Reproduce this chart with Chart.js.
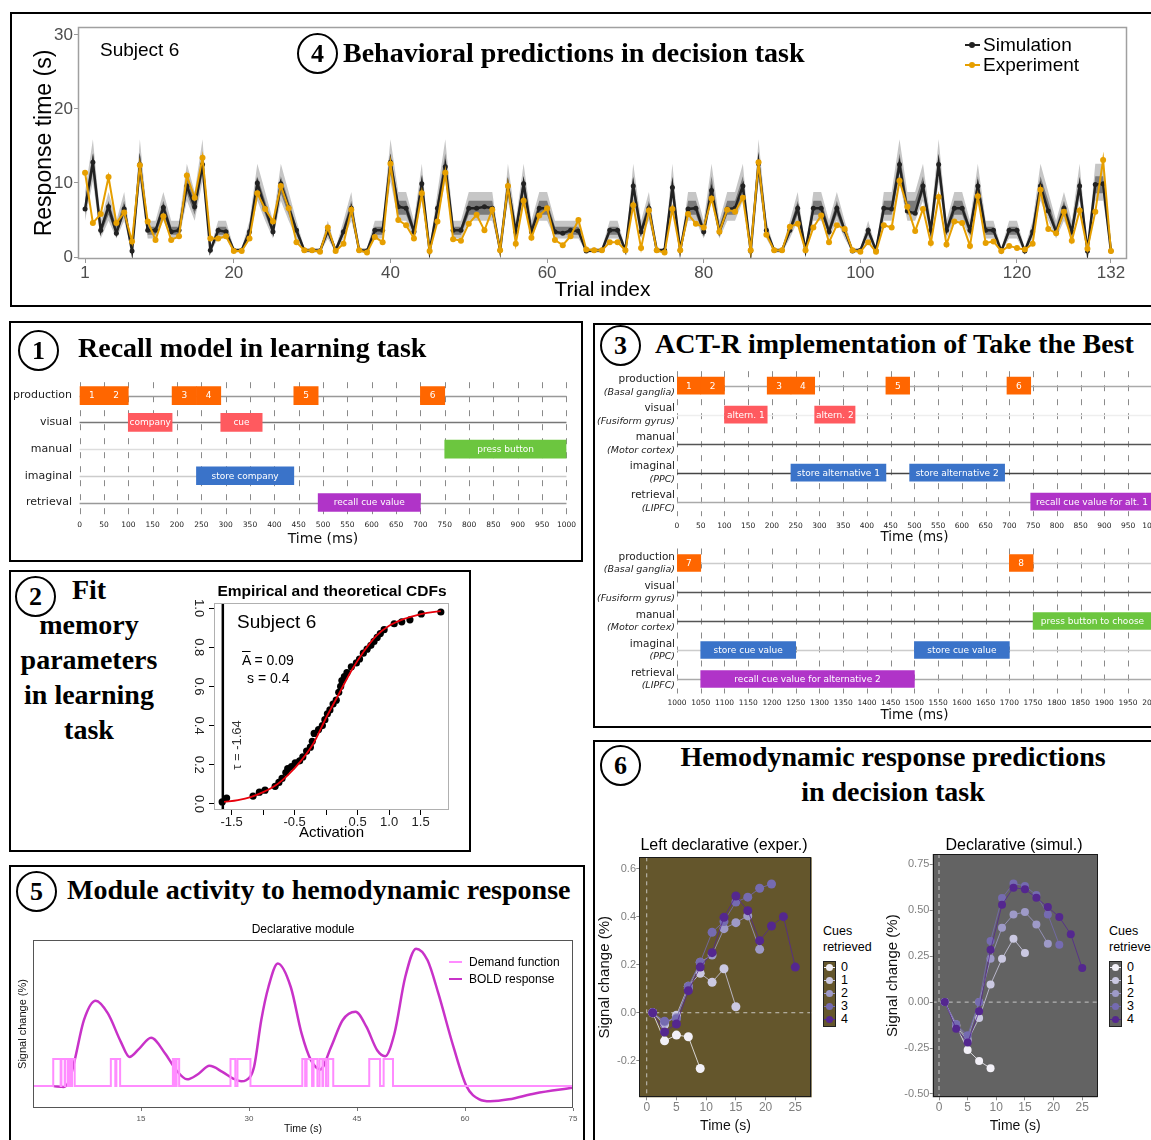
<!DOCTYPE html>
<html>
<head>
<meta charset="utf-8">
<script src="https://cdn.jsdelivr.net/npm/chart.js@4.4.1/dist/chart.umd.min.js"></script>
<style>
  html, body { margin: 0; padding: 0; background: #fff; }
  body { position: relative; width: 1151px; height: 1140px; overflow: hidden; font-family: 'Liberation Sans', Arial, sans-serif; color: #000; }
  canvas { position: absolute; }
  .box { position: absolute; border: 2px solid #000; box-sizing: border-box; }
  .t { position: absolute; white-space: nowrap; }
  .hd { position: absolute; white-space: nowrap; font: bold 28px 'Liberation Serif', 'Times New Roman', serif; line-height: 32px; }
  .circ { position: absolute; width: 41px; height: 41px; border: 2px solid #000; border-radius: 50%; box-sizing: border-box;
          font: bold 26px 'Liberation Serif', serif; line-height: 37px; text-align: center; }
  .key { position: absolute; border: 1px solid #222; box-sizing: border-box; }
  .dot { position: absolute; width: 7px; height: 7px; border-radius: 50%; }
  .ln { position: absolute; height: 2px; }
</style>
</head>
<body>

<!-- panel boxes -->
<div class="box" style="left:10px;top:12px;width:1150px;height:295px"></div>
<div class="box" style="left:9px;top:321px;width:574px;height:241px"></div>
<div class="box" style="left:9px;top:570px;width:462px;height:282px"></div>
<div class="box" style="left:593px;top:323px;width:600px;height:405px"></div>
<div class="box" style="left:9px;top:865px;width:576px;height:290px"></div>
<div class="box" style="left:593px;top:740px;width:600px;height:420px"></div>

<!-- charts -->
<canvas id="behav" width="1136" height="292" style="left:12px;top:14px"></canvas>
<canvas id="recall" width="570" height="187" style="left:11px;top:368px"></canvas>
<canvas id="cdf" width="285" height="265" style="left:180px;top:580px"></canvas>
<canvas id="tbTop" width="600" height="180" style="left:595px;top:366px"></canvas>
<canvas id="tbBot" width="600" height="182" style="left:595px;top:542px"></canvas>
<canvas id="bold" width="570" height="200" style="left:12px;top:935px"></canvas>
<canvas id="hLeft" width="226" height="310" style="left:596px;top:830px"></canvas>
<canvas id="hRight" width="225" height="310" style="left:884px;top:830px"></canvas>

<!-- panel 4 texts -->
<div class="circ" style="left:297px;top:33px">4</div>
<div class="hd" style="left:343px;top:37px">Behavioral predictions in decision task</div>
<div class="t" style="left:100px;top:39px;font-size:19px;line-height:22px">Subject 6</div>
<div class="ln" style="left:965px;top:44px;width:15px;background:#222"></div>
<div class="dot" style="left:969px;top:42px;width:6px;height:6px;background:#222"></div>
<div class="t" style="left:983px;top:34px;font-size:19px;line-height:22px">Simulation</div>
<div class="ln" style="left:965px;top:64px;width:15px;background:#E69F00"></div>
<div class="dot" style="left:969px;top:62px;width:6px;height:6px;background:#E69F00"></div>
<div class="t" style="left:983px;top:54px;font-size:19px;line-height:22px">Experiment</div>

<!-- panel 1 texts -->
<div class="circ" style="left:18px;top:330px">1</div>
<div class="hd" style="left:78px;top:332px">Recall model in learning task</div>

<!-- panel 2 texts -->
<div class="circ" style="left:15px;top:576px">2</div>
<div class="hd" style="left:9px;top:572px;width:160px;text-align:center;line-height:35px">Fit<br>memory<br>parameters<br>in learning<br>task</div>
<div class="t" style="left:332px;top:582px;transform:translateX(-50%);font-weight:bold;font-size:15.5px;line-height:18px">Empirical and theoretical CDFs</div>
<div class="t" style="left:237px;top:611px;font-size:19px;line-height:22px">Subject 6</div>
<div class="t" style="left:242px;top:652px;font-size:14px;line-height:16px"><span style="text-decoration:overline">A</span> = 0.09</div>
<div class="t" style="left:247px;top:670px;font-size:14px;line-height:16px">s = 0.4</div>
<div class="t" style="left:236px;top:745px;font-size:13px;line-height:15px;color:#333;transform:translate(-50%,-50%) rotate(-90deg)">τ = -1.64</div>

<!-- panel 3 texts -->
<div class="circ" style="left:600px;top:325px">3</div>
<div class="hd" style="left:655px;top:328px">ACT-R implementation of Take the Best</div>

<!-- panel 5 texts -->
<div class="circ" style="left:16px;top:871px">5</div>
<div class="hd" style="left:67px;top:874px">Module activity to hemodynamic response</div>
<div class="t" style="left:303px;top:922px;transform:translateX(-50%);font-size:12px;line-height:14px">Declarative module</div>
<div class="ln" style="left:449px;top:961px;width:13px;background:#ff8cff"></div>
<div class="t" style="left:469px;top:955px;font-size:12px;line-height:14px">Demand function</div>
<div class="ln" style="left:449px;top:978px;width:13px;background:#c832c8"></div>
<div class="t" style="left:469px;top:972px;font-size:12px;line-height:14px">BOLD response</div>

<!-- panel 6 texts -->
<div class="circ" style="left:600px;top:745px">6</div>
<div class="hd" style="left:893px;top:741px;transform:translateX(-50%)">Hemodynamic response predictions</div>
<div class="hd" style="left:893px;top:776px;transform:translateX(-50%)">in decision task</div>
<div class="t" style="left:724px;top:835px;transform:translateX(-50%);font-size:16px;line-height:20px">Left declarative (exper.)</div>
<div class="t" style="left:1014px;top:835px;transform:translateX(-50%);font-size:16px;line-height:20px">Declarative (simul.)</div>
<div id="legL"></div>
<div id="legR"></div>

<script>
// ---------- panel 4: behavioural predictions ----------
const simRT = [6.5, 12.8, 3.6, 6.8, 3.2, 6.5, 0.8, 12.5, 3.6, 3.6,
  6.7, 3.4, 3.6, 9.6, 6.8, 12.5, 0.9, 3.6, 3.4, 0.9,
  0.9, 3.4, 10.0, 6.6, 3.4, 9.9, 6.7, 3.6, 0.9, 0.9,
  0.8, 3.6, 0.9, 3.4, 6.6, 0.9, 0.8, 3.6, 3.6, 12.8,
  6.8, 6.6, 3.4, 9.9, 0.8, 6.6, 12.2, 3.6, 3.6, 6.6,
  6.6, 6.8, 6.6, 0.9, 9.6, 3.4, 9.9, 3.4, 6.6, 6.6,
  3.4, 3.2, 3.6, 3.5, 0.8, 0.9, 0.9, 3.6, 3.6, 0.9,
  9.6, 3.4, 6.6, 0.9, 0.9, 9.4, 0.9, 6.5, 6.6, 3.4,
  9.0, 3.4, 6.5, 6.6, 9.6, 0.8, 12.6, 3.6, 0.9, 0.9,
  3.6, 6.6, 0.9, 6.6, 6.6, 3.4, 6.6, 3.6, 0.8, 0.9,
  3.6, 0.9, 6.6, 6.5, 12.5, 6.2, 5.9, 9.6, 3.6, 12.5,
  3.6, 6.6, 6.6, 3.6, 9.6, 3.6, 3.6, 0.8, 3.6, 3.6,
  0.8, 3.4, 9.6, 6.2, 3.4, 6.6, 3.4, 9.6, 0.8, 9.8,
  9.9, 0.8];
const expRT = [11.4, 4.6, 5.8, 10.8, 4.6, 6.0, 2.1, 12.4, 4.8, 2.3,
  5.5, 2.3, 2.8, 11.0, 8.0, 13.4, 2.5, 2.5, 2.8, 0.8,
  0.8, 2.5, 8.6, 6.5, 4.8, 9.6, 6.6, 2.0, 0.9, 0.9,
  0.7, 4.0, 0.8, 1.8, 6.4, 0.9, 0.6, 2.7, 2.0, 12.6,
  5.0, 4.3, 2.5, 8.6, 0.8, 4.8, 11.4, 2.4, 2.2, 4.5,
  5.7, 3.6, 6.4, 0.9, 9.6, 1.8, 7.6, 2.6, 5.6, 6.6,
  2.3, 1.6, 2.8, 5.0, 1.0, 0.9, 0.9, 2.0, 2.0, 0.9,
  7.0, 1.2, 6.3, 0.9, 0.6, 6.5, 0.9, 5.8, 4.5, 4.0,
  7.9, 3.4, 6.4, 6.1, 8.0, 0.9, 12.8, 3.0, 0.9, 0.9,
  4.1, 4.5, 0.9, 4.0, 5.6, 2.0, 4.3, 3.8, 0.9, 0.7,
  2.0, 0.7, 4.3, 4.0, 10.3, 6.8, 3.5, 6.5, 1.9, 8.1,
  1.7, 4.8, 4.6, 1.5, 8.2, 1.9, 2.1, 0.8, 1.5, 1.2,
  1.0, 1.8, 9.1, 3.8, 3.2, 6.1, 2.2, 6.3, 1.1, 6.1,
  13.1, 0.8];
const behavXTicks = [1, 20, 40, 60, 80, 100, 120, 132];
const behavYTicks = [0, 10, 20, 30];
const bandLevel = [0.9, 3.5, 6.6, 9.7, 12.6];
const bandOuterLo = [0.6, 2.5, 4.9, 7.6, 10.2];
const bandInnerLo = [0.75, 3.0, 5.7, 8.6, 11.4];
const bandInnerHi = [1.05, 4.1, 7.6, 10.9, 14.0];
const bandOuterHi = [1.2, 4.9, 8.8, 12.6, 15.9];

// ---------- panel 1: recall model ----------
const recallRows = ['production', 'visual', 'manual', 'imaginal', 'retrieval'];
const recallBars = [
  ['production', 0, 50, '1'], ['production', 50, 100, '2'], ['production', 190, 240, '3'],
  ['production', 240, 290, '4'], ['production', 440, 490, '5'], ['production', 700, 750, '6'],
  ['visual', 100, 190, 'company'], ['visual', 290, 375, 'cue'],
  ['manual', 750, 1000, 'press button'],
  ['imaginal', 240, 440, 'store company'],
  ['retrieval', 490, 700, 'recall cue value']
];

// ---------- panel 3: take the best ----------
const tbRegions = ['(Basal ganglia)', '(Fusiform gyrus)', '(Motor cortex)', '(PPC)', '(LIPFC)'];
const tbBarsTop = [
  ['production', 0, 50, '1'], ['production', 50, 100, '2'], ['production', 190, 240, '3'],
  ['production', 240, 290, '4'], ['production', 440, 490, '5'], ['production', 695, 745, '6'],
  ['visual', 100, 190, 'altern. 1'], ['visual', 290, 375, 'altern. 2'],
  ['imaginal', 240, 440, 'store alternative 1'], ['imaginal', 490, 690, 'store alternative 2'],
  ['retrieval', 745, 1003, 'recall cue value for alt. 1']
];
const tbBarsBot = [
  ['production', 1000, 1050, '7'], ['production', 1700, 1750, '8'],
  ['manual', 1750, 2000, 'press button to choose'],
  ['imaginal', 1050, 1250, 'store cue value'], ['imaginal', 1500, 1700, 'store cue value'],
  ['retrieval', 1050, 1500, 'recall cue value for alternative 2']
];

// ---------- panel 2: CDFs ----------
const cdfAct = [-1.65, -1.58, -1.16, -1.06, -0.97, -0.81, -0.75, -0.70, -0.64, -0.61, -0.55, -0.49, -0.42,
  -0.37, -0.31, -0.25, -0.22, -0.19, -0.12, -0.06, -0.02, 0.02, 0.06, 0.11, 0.16, 0.20, 0.23, 0.25, 0.29,
  0.33, 0.40, 0.48, 0.53, 0.59, 0.65, 0.71, 0.76, 0.81, 0.86, 0.92, 1.08, 1.20, 1.33, 1.51, 1.82];
const cdfEmp = [0.01, 0.03, 0.04, 0.06, 0.07, 0.09, 0.11, 0.13, 0.16, 0.18, 0.19, 0.21, 0.22,
  0.24, 0.27, 0.29, 0.32, 0.36, 0.38, 0.40, 0.43, 0.46, 0.48, 0.51, 0.53, 0.57, 0.60, 0.63, 0.65,
  0.67, 0.70, 0.72, 0.74, 0.77, 0.79, 0.81, 0.83, 0.85, 0.87, 0.89, 0.92, 0.93, 0.94, 0.97, 0.98];
const theoAct = [-1.62, -1.4, -1.2, -1.0, -0.8, -0.6, -0.4, -0.2, 0.0, 0.2, 0.4, 0.6, 0.8, 1.0, 1.2, 1.4, 1.6, 1.82];
const theoCdf = [0.01, 0.02, 0.035, 0.06, 0.095, 0.15, 0.22, 0.31, 0.44, 0.56, 0.68, 0.78, 0.86, 0.91, 0.94, 0.96, 0.975, 0.985];
const tau = -1.64;
const cdfXTicks = [-1.5, -1.0, -0.5, 0, 0.5, 1.0, 1.5];
const cdfXLabels = ['-1.5', '', '-0.5', '', '0.5', '1.0', '1.5'];
const cdfYTicks = [0, 0.2, 0.4, 0.6, 0.8, 1.0];

// ---------- panel 5: declarative module ----------
const demandOn = [[2.81, 3.84], [3.95, 4.4], [4.5, 4.86], [5.0, 5.27], [5.42, 5.79], [10.81, 11.43], [11.58, 12.1],
  [19.43, 19.69], [19.94, 20.3], [27.43, 28.1], [28.4, 30.2], [37.4, 37.8], [38.0, 38.76], [38.97, 39.5],
  [39.8, 40.2], [40.3, 40.7], [41.0, 41.7], [46.7, 48.2], [48.7, 50.0]];
const boldT = [2.86, 4.3, 5.1, 5.79, 7.07, 8.71, 10.4, 12.2, 13.4, 14.76, 16.4, 18.35, 19.9, 21.4, 23.0, 24.5,
  26.3, 27.8, 28.9, 29.6, 30.7, 31.7, 32.7, 34.0, 35.8, 37.3, 38.6, 39.9, 41.4, 43.0, 44.8, 46.3, 47.8, 48.9,
  50.2, 51.7, 53.2, 54.8, 56.3, 58.4, 60.2, 62.0, 63.5, 66.1, 69.7, 75];
const boldV = [0, -0.03, 0.25, 0.96, 2.44, 3.16, 2.69, 1.64, 1.08, 1.39, 1.79, 1.21, 0.59, 0.25, 0.46, 0.75,
  0.53, 0.28, 0.18, 0.22, 0.71, 2.44, 3.67, 4.54, 3.67, 1.95, 0.96, 0.62, 1.45, 2.44, 2.75, 2.2, 1.33, 1.11,
  1.95, 4.04, 5.09, 4.66, 3.43, 1.45, 0, -0.49, -0.56, -0.49, -0.27, -0.06];
const boldXTicks = [15, 30, 45, 60, 75];

// ---------- panel 6: hemodynamic predictions ----------
const hemoTimes = [1, 3, 5, 7, 9, 11, 13, 15, 17, 19, 21, 23, 25];
const hemoXTicks = [0, 5, 10, 15, 20, 25];
const expCue0 = [0, -0.117, -0.093, -0.1, -0.232];
const expCue1 = [0, -0.05, -0.01, 0.11, 0.164, 0.127, 0.183, 0.025];
const expCue2 = [0, -0.04, -0.02, 0.10, 0.21, 0.24, 0.35, 0.375, 0.403, 0.264];
const expCue3 = [0, -0.035, -0.025, 0.11, 0.21, 0.335, 0.38, 0.461, 0.481, 0.518, 0.536];
const expCue4 = [0, -0.08, -0.047, 0.092, 0.19, 0.25, 0.397, 0.486, 0.425, 0.30, 0.361, 0.40, 0.19];
const simCue0 = [0, -0.127, -0.26, -0.32, -0.36];
const simCue1 = [0, -0.13, -0.21, -0.087, 0.096, 0.236, 0.345, 0.267];
const simCue2 = [0, -0.12, -0.20, 0.0, 0.236, 0.405, 0.477, 0.49, 0.423, 0.318];
const simCue3 = [0, -0.12, -0.18, 0.0, 0.332, 0.566, 0.645, 0.632, 0.583, 0.477, 0.312];
const simCue4 = [0, -0.145, -0.22, -0.05, 0.285, 0.53, 0.623, 0.614, 0.568, 0.517, 0.463, 0.369, 0.185];
const cueLabels = ['0', '1', '2', '3', '4'];

// ---------- styling ----------
const cueColors = ['#f2f0f7', '#cbc9e2', '#9e9ac8', '#756bb1', '#54278f'];
const moduleColors = { production: '#ff6600', visual: '#ff5a5f', manual: '#6cc63f', imaginal: '#3a73c9', retrieval: '#b034c8' };
const OLIVE = '#64562c';
const GREY_BG = '#636363';

Chart.defaults.font.family = "'Liberation Sans', Arial, sans-serif";
Chart.defaults.animation = false;
Chart.defaults.events = [];
Chart.defaults.plugins.legend.display = false;
Chart.defaults.plugins.tooltip.enabled = false;

// background, box and zero lines
const framePlugin = {
  id: 'frame',
  beforeDraw(chart, args, o) {
    const a = chart.chartArea, ctx = chart.ctx;
    ctx.save();
    if (o.bg) {
      ctx.fillStyle = o.bg;
      ctx.fillRect(a.left, a.top, a.right - a.left, a.bottom - a.top);
    }
    if (o.zero) {
      const x0 = chart.scales.x.getPixelForValue(0), y0 = chart.scales.y.getPixelForValue(0);
      ctx.strokeStyle = o.zero; ctx.lineWidth = 1; ctx.setLineDash([4, 4]);
      ctx.beginPath();
      ctx.moveTo(x0, a.top); ctx.lineTo(x0, a.bottom);
      ctx.moveTo(a.left, y0); ctx.lineTo(a.right, y0);
      ctx.stroke();
    }
    ctx.restore();
  },
  afterDraw(chart, args, o) {
    if (!o.color) return;
    const a = chart.chartArea, ctx = chart.ctx;
    ctx.save();
    ctx.strokeStyle = o.color; ctx.lineWidth = o.width || 1;
    ctx.strokeRect(Math.round(a.left) + 0.5, Math.round(a.top) + 0.5,
      Math.round(a.right - a.left) - 1, Math.round(a.bottom - a.top) - 1);
    ctx.restore();
  }
};

// gantt grid, bar captions and two-line row labels
const ganttPlugin = {
  id: 'gantt',
  beforeDatasetsDraw(chart, args, o) {
    if (!o.rows) return;
    const a = chart.chartArea, ctx = chart.ctx, xs = chart.scales.x, ys = chart.scales.y;
    ctx.save();
    ctx.strokeStyle = '#8a8a8a'; ctx.lineWidth = 1; ctx.setLineDash([6, 8]);
    for (let v = xs.min; v <= xs.max; v += 50) {
      const x = Math.round(xs.getPixelForValue(v)) + 0.5;
      ctx.beginPath(); ctx.moveTo(x, a.top); ctx.lineTo(x, a.bottom); ctx.stroke();
    }
    ctx.setLineDash([]);
    o.rows.forEach((r, i) => {
      const y = Math.round(ys.getPixelForValue(i)) + 0.5;
      ctx.strokeStyle = o.lineColors[i]; ctx.lineWidth = 1.5;
      ctx.beginPath(); ctx.moveTo(a.left, y); ctx.lineTo(a.right, y); ctx.stroke();
    });
    ctx.restore();
  },
  afterDatasetsDraw(chart, args, o) {
    if (!o.rows) return;
    const ctx = chart.ctx;
    ctx.save();
    ctx.fillStyle = '#fff'; ctx.textAlign = 'center'; ctx.textBaseline = 'middle';
    ctx.font = "9px 'DejaVu Sans', Verdana, sans-serif";
    chart.data.datasets.forEach((ds, di) => {
      chart.getDatasetMeta(di).data.forEach((el, i) => {
        ctx.fillText(ds.data[i].t, (el.x + el.base) / 2, el.y + 0.5);
      });
    });
    ctx.restore();
  },
  afterDraw(chart, args, o) {
    if (!o.regions) return;
    const ctx = chart.ctx, ys = chart.scales.y, x = chart.chartArea.left - 2;
    ctx.save();
    ctx.fillStyle = '#222'; ctx.textAlign = 'right'; ctx.textBaseline = 'middle';
    o.rows.forEach((r, i) => {
      const y = ys.getPixelForValue(i);
      ctx.font = "10.5px 'DejaVu Sans', Verdana, sans-serif";
      ctx.fillText(r, x, y - 6);
      ctx.font = "italic 9.5px 'DejaVu Sans', Verdana, sans-serif";
      ctx.fillText(r === undefined ? '' : o.regions[i], x, y + 7);
    });
    ctx.restore();
  }
};
Chart.register(framePlugin, ganttPlugin);

// ---------- panel 4 chart ----------
const trials = simRT.map((v, i) => i + 1);
function nearestLevel(v) {
  let k = 0;
  bandLevel.forEach((l, j) => { if (Math.abs(v - l) < Math.abs(v - bandLevel[k])) k = j; });
  return k;
}
const asPts = ys => ys.map((y, i) => ({ x: trials[i], y: y }));
const bandPts = arr => simRT.map((v, i) => ({ x: trials[i], y: arr[nearestLevel(v)] }));

new Chart(document.getElementById('behav'), {
  type: 'line',
  data: {
    datasets: [
      { data: asPts(expRT), borderColor: '#E69F00', backgroundColor: '#E69F00', borderWidth: 2, pointRadius: 3, pointBorderWidth: 0 },
      { data: asPts(simRT), borderColor: '#222', backgroundColor: '#222', borderWidth: 2.5, pointRadius: 2.5, pointBorderWidth: 0 },
      { data: bandPts(bandInnerHi), fill: '+1', backgroundColor: '#7a7a7a', borderWidth: 0, pointRadius: 0 },
      { data: bandPts(bandInnerLo), borderWidth: 0, pointRadius: 0 },
      { data: bandPts(bandOuterHi), fill: '+1', backgroundColor: '#c6c6c6', borderWidth: 0, pointRadius: 0 },
      { data: bandPts(bandOuterLo), borderWidth: 0, pointRadius: 0 }
    ]
  },
  options: {
    responsive: false,
    layout: { padding: { top: 13, right: 21, left: 0, bottom: 0 } },
    scales: {
      x: {
        type: 'linear', min: 0.1, max: 134.05,
        afterFit: s => { s.height = 47; },
        afterBuildTicks: s => { s.ticks = behavXTicks.map(v => ({ value: v })); },
        ticks: { callback: v => String(v), color: '#4d4d4d', font: { size: 17 }, padding: 0, maxRotation: 0, autoSkip: false },
        grid: { display: true, drawOnChartArea: false, tickLength: 4, color: '#999' },
        border: { display: false },
        title: { display: true, text: 'Trial index', color: '#000', font: { size: 21 }, padding: { top: 0, bottom: 3 } }
      },
      y: {
        type: 'linear', min: -0.27, max: 31.08,
        afterFit: s => { s.width = 66; },
        afterBuildTicks: s => { s.ticks = behavYTicks.map(v => ({ value: v })); },
        ticks: { callback: v => String(v), color: '#4d4d4d', font: { size: 17 }, padding: 1 },
        grid: { display: true, drawOnChartArea: false, tickLength: 4, color: '#999' },
        border: { display: false },
        title: { display: true, text: 'Response time (s)', color: '#000', font: { size: 23 }, padding: { top: 19, bottom: 0 } }
      }
    },
    plugins: { frame: { color: '#a0a0a0', width: 1.5 } }
  }
});

// ---------- gantt charts (panels 1 and 3) ----------
function ganttDatasets(rows, bars) {
  return rows.map(r => ({
    data: bars.filter(b => b[0] === r).map(b => ({ x: [b[1], b[2]], y: r, t: b[3] })),
    backgroundColor: moduleColors[r],
    borderWidth: 0
  }));
}
function ganttChart(id, rows, bars, xmin, xmax, g) {
  const xTicks = [];
  for (let v = xmin; v <= xmax; v += 50) xTicks.push(v);
  return new Chart(document.getElementById(id), {
    type: 'bar',
    data: { labels: rows, datasets: ganttDatasets(rows, bars) },
    options: {
      indexAxis: 'y',
      responsive: false,
      layout: { padding: { top: g.padTop, right: g.padRight, left: 0, bottom: 0 } },
      datasets: { bar: { grouped: false, barThickness: g.bar } },
      scales: {
        x: {
          type: 'linear', min: xmin, max: xmax,
          afterFit: s => { s.height = g.xh; },
          afterBuildTicks: s => { s.ticks = xTicks.map(v => ({ value: v })); },
          ticks: { callback: v => String(v), autoSkip: false, maxRotation: 0, padding: g.tickPad, color: '#222',
                   font: { family: "'DejaVu Sans', Verdana, sans-serif", size: 7.5 } },
          grid: { display: false, drawTicks: false },
          border: { display: false },
          title: { display: true, text: 'Time (ms)', color: '#111',
                   font: { family: "'DejaVu Sans', Verdana, sans-serif", size: g.titleSize },
                   padding: { top: 0, bottom: g.titlePad } }
        },
        y: {
          type: 'category',
          afterFit: s => { s.width = g.yw; },
          ticks: { display: g.yTicks, padding: 7.6, color: '#222', font: { family: "'DejaVu Sans', Verdana, sans-serif", size: 11 } },
          grid: { display: false, drawTicks: false },
          border: { display: false }
        }
      },
      plugins: { gantt: { rows: rows, lineColors: g.lineColors, regions: g.regions } }
    }
  });
}

ganttChart('recall', recallRows, recallBars, 0, 1000, {
  padTop: 9.1, padRight: 14.2, xh: 39.1, yw: 68.6, bar: 18, tickPad: 5, titleSize: 14, titlePad: 7.6,
  yTicks: true, lineColors: ['#999', '#777', '#ddd', '#ccc', '#999']
});
ganttChart('tbTop', recallRows, tbBarsTop, 0, 1000, {
  padTop: 5.2, padRight: 43.2, xh: 29.8, yw: 82, bar: 17, tickPad: 5.3, titleSize: 13.5, titlePad: 0.9,
  yTicks: false, regions: tbRegions, lineColors: ['#aaa', '#eee', '#555', '#444', '#aaa']
});
ganttChart('tbBot', recallRows, tbBarsBot, 1000, 2000, {
  padTop: 6.5, padRight: 43.2, xh: 30.5, yw: 82, bar: 17, tickPad: 5.5, titleSize: 13.5, titlePad: 0.9,
  yTicks: false, regions: tbRegions, lineColors: ['#ccc', '#555', '#555', '#ccc', '#aaa']
});

// ---------- panel 2 chart ----------
new Chart(document.getElementById('cdf'), {
  type: 'scatter',
  data: {
    datasets: [
      { data: theoAct.map((x, i) => ({ x: x, y: theoCdf[i] })), showLine: true, borderColor: '#e8000b', borderWidth: 1.8,
        pointRadius: 0, cubicInterpolationMode: 'monotone' },
      { data: cdfAct.map((x, i) => ({ x: x, y: cdfEmp[i] })), backgroundColor: '#000', pointRadius: 3.6, pointBorderWidth: 0 },
      { data: [{ x: tau, y: -0.03 }, { x: tau, y: 1.026 }], showLine: true, borderColor: '#000', borderWidth: 2.5, pointRadius: 0 }
    ]
  },
  options: {
    responsive: false,
    layout: { padding: { top: 23, right: 16, left: 0, bottom: 0 } },
    scales: {
      x: {
        type: 'linear', min: -1.78, max: 1.95,
        afterFit: s => { s.height = 35; },
        afterBuildTicks: s => { s.ticks = cdfXTicks.map(v => ({ value: v })); },
        ticks: { callback: (v, i) => cdfXLabels[i], color: '#222', font: { size: 13 }, padding: 0, maxRotation: 0, autoSkip: false },
        grid: { display: true, drawOnChartArea: false, tickLength: 5, color: '#000' },
        border: { display: false },
        title: { display: true, text: 'Activation', color: '#000', font: { size: 15 }, padding: { top: 0, bottom: 3 } }
      },
      y: {
        type: 'linear', min: -0.031, max: 1.026,
        afterFit: s => { s.width = 34; },
        afterBuildTicks: s => { s.ticks = cdfYTicks.map(v => ({ value: v })); },
        ticks: { callback: v => v.toFixed(1), color: '#222', font: { size: 13 }, padding: 1,
                 minRotation: -90, maxRotation: -90, crossAlign: 'center' },
        grid: { display: true, drawOnChartArea: false, tickLength: 5, color: '#000' },
        border: { display: false }
      }
    },
    plugins: { frame: { color: '#b0b0b0' } }
  }
});

// ---------- panel 5 chart ----------
const demandPts = [{ x: 0, y: 0 }];
demandOn.forEach(([s, e]) => { demandPts.push({ x: s, y: 0 }, { x: s, y: 1 }, { x: e, y: 1 }, { x: e, y: 0 }); });
demandPts.push({ x: 75, y: 0 });

new Chart(document.getElementById('bold'), {
  type: 'scatter',
  data: {
    datasets: [
      { data: demandPts, showLine: true, borderColor: '#ff8cff', borderWidth: 2, pointRadius: 0 },
      { data: boldT.map((x, i) => ({ x: x, y: boldV[i] })), showLine: true, borderColor: '#c832c8', borderWidth: 2.5,
        pointRadius: 0, cubicInterpolationMode: 'monotone' }
    ]
  },
  options: {
    responsive: false,
    layout: { padding: { top: 5, right: 9, left: 0, bottom: 0 } },
    scales: {
      x: {
        type: 'linear', min: 0, max: 75,
        afterFit: s => { s.height = 27; },
        afterBuildTicks: s => { s.ticks = boldXTicks.map(v => ({ value: v })); },
        ticks: { callback: v => String(v), color: '#555', font: { size: 8 }, padding: 3, maxRotation: 0 },
        grid: { display: true, drawOnChartArea: false, tickLength: 3, color: '#777' },
        border: { display: false },
        title: { display: true, text: 'Time (s)', color: '#111', font: { size: 10.5 }, padding: { top: 0, bottom: 0 } }
      },
      y: {
        type: 'linear', min: -0.81, max: 5.41,
        afterFit: s => { s.width = 21; },
        ticks: { display: false },
        grid: { display: false, drawTicks: false },
        border: { display: false },
        title: { display: true, text: 'Signal change (%)', color: '#111', font: { size: 11 }, padding: { top: 4.4, bottom: 0 } }
      }
    },
    plugins: { frame: { color: '#555' } }
  }
});

// ---------- panel 6 charts ----------
function hemoChart(id, series, g) {
  return new Chart(document.getElementById(id), {
    type: 'scatter',
    data: {
      datasets: series.map((ys, k) => ({
        data: ys.map((y, i) => ({ x: hemoTimes[i], y: y })),
        showLine: true, order: 4 - k,
        borderColor: cueColors[k] + 'd0', backgroundColor: cueColors[k], borderWidth: 1,
        pointRadius: g.r, pointBorderWidth: 0
      }))
    },
    options: {
      responsive: false,
      layout: { padding: { top: g.padTop, right: g.padRight, left: 0, bottom: 0 } },
      scales: {
        x: {
          type: 'linear', min: g.xmin, max: g.xmax,
          afterFit: s => { s.height = 42.7; },
          afterBuildTicks: s => { s.ticks = hemoXTicks.map(v => ({ value: v })); },
          ticks: { callback: v => String(v), color: '#7f7f7f', font: { size: 12 }, padding: 0, maxRotation: 0 },
          grid: { display: true, drawOnChartArea: false, tickLength: 3, color: '#888' },
          border: { display: false },
          title: { display: true, text: 'Time (s)', color: '#111', font: { size: 14 }, padding: { top: 0, bottom: 5.6 } }
        },
        y: {
          type: 'linear', min: g.ymin, max: g.ymax,
          afterFit: s => { s.width = g.yw; },
          afterBuildTicks: s => { s.ticks = g.yTicks.map(v => ({ value: v })); },
          ticks: { callback: v => v.toFixed(g.dec), color: '#7f7f7f', font: { size: 11 }, padding: 0.3 },
          grid: { display: true, drawOnChartArea: false, tickLength: 3, color: '#888' },
          border: { display: false },
          title: { display: true, text: 'Signal change (%)', color: '#111', font: { size: 15 }, padding: { top: g.titlePad, bottom: 0 } }
        }
      },
      plugins: { frame: { bg: g.bg, color: '#1a1a1a', zero: 'rgba(215,215,215,0.85)' } }
    }
  });
}

hemoChart('hLeft', [expCue0, expCue1, expCue2, expCue3, expCue4], {
  padTop: 27.3, padRight: 10.3, yw: 43.3, xmin: -1.25, xmax: 27.76, ymin: -0.352, ymax: 0.647,
  yTicks: [-0.2, 0, 0.2, 0.4, 0.6], dec: 1, titlePad: 0, bg: OLIVE, r: 4.5
});
hemoChart('hRight', [simCue0, simCue1, simCue2, simCue3, simCue4], {
  padTop: 24, padRight: 11.3, yw: 48.7, xmin: -1.1, xmax: 27.7, ymin: -0.518, ymax: 0.806,
  yTicks: [-0.5, -0.25, 0, 0.25, 0.5, 0.75], dec: 2, titlePad: 0.3, bg: GREY_BG, r: 4
});

// ---------- panel 6 legends (ggplot style keys) ----------
function hemoLegend(el, left, bg) {
  let html = '<div class="t" style="left:' + left + 'px;top:924px;font-size:12.5px;line-height:15px">Cues</div>' +
    '<div class="t" style="left:' + left + 'px;top:940px;font-size:12.5px;line-height:15px">retrieved</div>' +
    '<div class="key" style="left:' + left + 'px;top:961px;width:13px;height:66px;background:' + bg + '"></div>';
  cueLabels.forEach((lab, i) => {
    const cy = 967.5 + 13 * i;
    html += '<div class="ln" style="left:' + (left + 1) + 'px;top:' + (cy - 0.5) + 'px;width:11px;height:1px;background:' + cueColors[i] + '"></div>' +
      '<div class="dot" style="left:' + (left + 3) + 'px;top:' + (cy - 3.5) + 'px;background:' + cueColors[i] + '"></div>' +
      '<div class="t" style="left:' + (left + 18) + 'px;top:' + (cy - 7.5) + 'px;font-size:12.5px;line-height:15px">' + lab + '</div>';
  });
  document.getElementById(el).innerHTML = html;
}
hemoLegend('legL', 823, OLIVE);
hemoLegend('legR', 1109, GREY_BG);
</script>
</body>
</html>
